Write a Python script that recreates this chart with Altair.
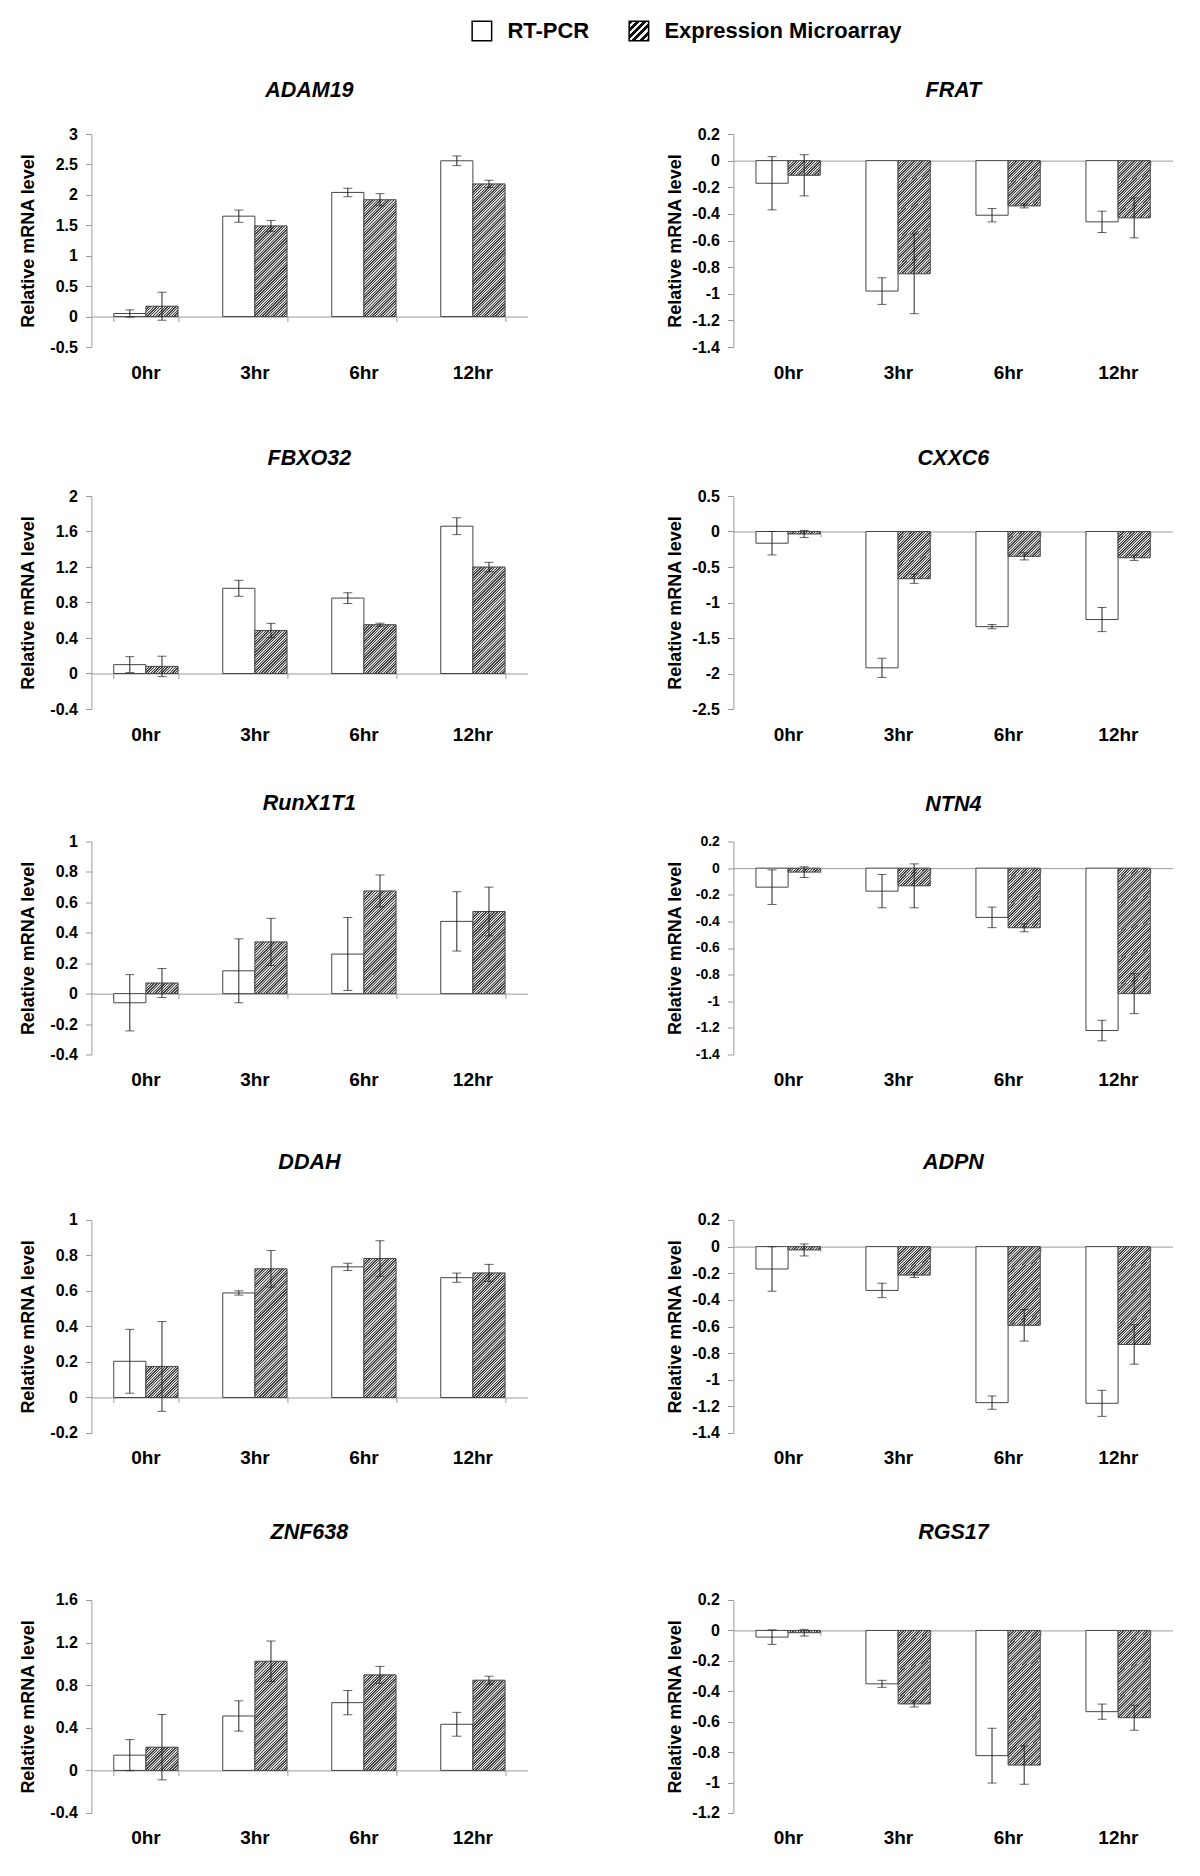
import math
import altair as alt
import pandas as pd

TIMES = ["0hr", "3hr", "6hr", "12hr"]
SERIES = ["RT-PCR", "Expression Microarray"]
GENES = ["ADAM19", "FRAT", "FBXO32", "CXXC6", "RunX1T1", "NTN4", "DDAH", "ADPN", "ZNF638", "RGS17"]

ADAM19_PCR = [0.05, 1.65, 2.04, 2.56]
ADAM19_PCR_ERR = [0.06, 0.10, 0.07, 0.08]
ADAM19_ARR = [0.17, 1.49, 1.92, 2.18]
ADAM19_ARR_ERR = [0.23, 0.09, 0.10, 0.06]
ADAM19_TICKS = [-0.5, 0, 0.5, 1, 1.5, 2, 2.5, 3]

FRAT_PCR = [-0.17, -0.98, -0.41, -0.46]
FRAT_PCR_ERR = [0.20, 0.10, 0.05, 0.08]
FRAT_ARR = [-0.11, -0.85, -0.34, -0.43]
FRAT_ARR_ERR = [0.155, 0.30, 0.015, 0.15]
FRAT_TICKS = [-1.4, -1.2, -1, -0.8, -0.6, -0.4, -0.2, 0, 0.2]

FBXO32_PCR = [0.10, 0.96, 0.85, 1.66]
FBXO32_PCR_ERR = [0.09, 0.09, 0.06, 0.095]
FBXO32_ARR = [0.08, 0.485, 0.55, 1.20]
FBXO32_ARR_ERR = [0.115, 0.08, 0.017, 0.053]
FBXO32_TICKS = [-0.4, 0, 0.4, 0.8, 1.2, 1.6, 2]

CXXC6_PCR = [-0.165, -1.92, -1.34, -1.24]
CXXC6_PCR_ERR = [0.165, 0.135, 0.03, 0.17]
CXXC6_ARR = [-0.035, -0.665, -0.35, -0.37]
CXXC6_ARR_ERR = [0.05, 0.065, 0.05, 0.037]
CXXC6_TICKS = [-2.5, -2, -1.5, -1, -0.5, 0, 0.5]

RUNX1T1_PCR = [-0.06, 0.15, 0.26, 0.475]
RUNX1T1_PCR_ERR = [0.185, 0.21, 0.24, 0.195]
RUNX1T1_ARR = [0.07, 0.34, 0.675, 0.54]
RUNX1T1_ARR_ERR = [0.095, 0.155, 0.105, 0.16]
RUNX1T1_TICKS = [-0.4, -0.2, 0, 0.2, 0.4, 0.6, 0.8, 1]

NTN4_PCR = [-0.143, -0.173, -0.37, -1.22]
NTN4_PCR_ERR = [0.13, 0.125, 0.077, 0.077]
NTN4_ARR = [-0.03, -0.133, -0.448, -0.943]
NTN4_ARR_ERR = [0.04, 0.165, 0.03, 0.15]
NTN4_TICKS = [-1.4, -1.2, -1, -0.8, -0.6, -0.4, -0.2, 0, 0.2]

DDAH_PCR = [0.204, 0.589, 0.736, 0.675]
DDAH_PCR_ERR = [0.18, 0.012, 0.02, 0.026]
DDAH_ARR = [0.175, 0.725, 0.783, 0.702]
DDAH_ARR_ERR = [0.253, 0.103, 0.10, 0.048]
DDAH_TICKS = [-0.2, 0, 0.2, 0.4, 0.6, 0.8, 1]

ADPN_PCR = [-0.168, -0.329, -1.172, -1.177]
ADPN_PCR_ERR = [0.167, 0.054, 0.05, 0.098]
ADPN_ARR = [-0.025, -0.214, -0.591, -0.735]
ADPN_ARR_ERR = [0.045, 0.018, 0.118, 0.148]
ADPN_TICKS = [-1.4, -1.2, -1, -0.8, -0.6, -0.4, -0.2, 0, 0.2]

ZNF638_PCR = [0.143, 0.511, 0.636, 0.433]
ZNF638_PCR_ERR = [0.146, 0.142, 0.114, 0.112]
ZNF638_ARR = [0.218, 1.025, 0.897, 0.847]
ZNF638_ARR_ERR = [0.307, 0.19, 0.08, 0.037]
ZNF638_TICKS = [-0.4, 0, 0.4, 0.8, 1.2, 1.6]

RGS17_PCR = [-0.044, -0.351, -0.823, -0.534]
RGS17_PCR_ERR = [0.048, 0.023, 0.18, 0.05]
RGS17_ARR = [-0.015, -0.483, -0.885, -0.574]
RGS17_ARR_ERR = [0.022, 0.02, 0.126, 0.082]
RGS17_TICKS = [-1.2, -1, -0.8, -0.6, -0.4, -0.2, 0, 0.2]

PW_L, PW_R, PH = 436, 440, 213
P_IN, P_OUT = 0.41, 0.205
FONT = "Liberation Sans"
GRAY = "#9a9a9a"


def hatch(w, h, period=2.7, dark="#444444", light="#d4d4d4", frac=0.5):
    """Diagonal '/' stripes as a linear gradient over the mark's bounding box."""
    total = w + h
    d = w * w + h * h
    x2 = w * total / d
    y2 = h * total / d
    stops = []
    k = 0
    while True:
        a = k * period / total
        b = min((k + frac) * period / total, 1.0)
        c = min((k + 1) * period / total, 1.0)
        stops += [
            {"offset": round(a, 4), "color": dark},
            {"offset": round(b, 4), "color": dark},
            {"offset": round(b, 4), "color": light},
            {"offset": round(c, 4), "color": light},
        ]
        if c >= 1.0:
            break
        k += 1
    return {"gradient": "linear", "x1": 0, "y1": 0, "x2": round(x2, 4), "y2": round(y2, 4), "stops": stops}


def panel(gene, pcr, pcr_err, arr, arr_err, ticks, pw, extent, title_pad, title_offset, label_size=16):
    lo, hi = ticks[0], ticks[-1]
    recs = []
    for i, t in enumerate(TIMES):
        for s, v, e in ((SERIES[0], pcr[i], pcr_err[i]), (SERIES[1], arr[i], arr_err[i])):
            recs.append({"time": t, "series": s, "value": v, "lo": v - e, "hi": v + e})
    df = pd.DataFrame(recs)

    step = pw / (len(TIMES) - P_IN + 2 * P_OUT)
    bar_w = step * (1 - P_IN) / len(SERIES)
    px = PH / (hi - lo)
    zero_dist = round((0 - lo) * px, 2)  # distance from plot bottom to the zero line

    conds = [{"test": f"datum.series === '{SERIES[0]}'", "value": "white"}]
    for t, v in zip(TIMES, arr):
        conds.append({"test": f"datum.time === '{t}'", "value": hatch(bar_w, abs(v) * px)})
    fill = {"condition": conds, "value": "#999999"}

    xs = alt.Scale(domain=TIMES, paddingInner=P_IN, paddingOuter=P_OUT)
    xo = alt.XOffset("series:N", sort=SERIES,
                     scale=alt.Scale(domain=SERIES, paddingInner=0, paddingOuter=0))
    ys = alt.Scale(domain=[lo, hi], nice=False)

    # category labels along the bottom
    x_lab = alt.X("time:N", sort=TIMES, scale=xs, title=None,
                  axis=alt.Axis(orient="bottom", domain=False, ticks=False, tickSize=0,
                                labelAngle=0, labelFontSize=19, labelFontWeight="bold",
                                labelColor="black", labelPadding=16, labelFont=FONT, grid=False))
    # zero line with category boundary ticks
    x_zero = alt.X("time:N", sort=TIMES, scale=xs, title=None,
                   axis=alt.Axis(orient="bottom", offset=-zero_dist, labels=False,
                                 domainColor=GRAY, tickColor=GRAY, tickBand="extent",
                                 tickSize=5, grid=False))
    x_plain = alt.X("time:N", sort=TIMES, scale=xs, axis=None)

    y_axis = alt.Axis(values=ticks, labelExpr="datum.value + ''", grid=False, orient="left",
                      domainColor=GRAY, tickColor=GRAY, tickSize=6, labelPadding=8,
                      labelFontSize=label_size, labelFontWeight="bold",
                      labelColor="black", labelFont=FONT, labelOverlap=False,
                      titleFontSize=18, titleFontWeight="bold", titleColor="black",
                      titleFont=FONT, titlePadding=title_pad,
                      minExtent=extent, maxExtent=extent)

    base = alt.Chart(df)
    bars = base.mark_bar(stroke="#444444", strokeWidth=1).encode(
        x=x_lab, xOffset=xo,
        y=alt.Y("value:Q", scale=ys, title="Relative mRNA level", axis=y_axis),
        y2=alt.datum(0), fill=fill)
    rules = base.mark_rule(color="#222222", strokeWidth=1).encode(
        x=x_zero, xOffset=xo, y=alt.Y("lo:Q", scale=ys, axis=None), y2="hi:Q")
    cap_hi = base.mark_tick(color="#222222", thickness=1, size=9, orient="horizontal").encode(
        x=x_plain, xOffset=xo, y=alt.Y("hi:Q", scale=ys, axis=None))
    cap_lo = base.mark_tick(color="#222222", thickness=1, size=9, orient="horizontal").encode(
        x=x_plain, xOffset=xo, y=alt.Y("lo:Q", scale=ys, axis=None))

    return alt.layer(bars, rules, cap_hi, cap_lo).resolve_axis(
        x="independent", y="independent").properties(
        width=pw, height=PH,
        title=alt.TitleParams(text=gene, fontSize=21.5, fontWeight="bold", fontStyle="italic",
                              font=FONT, color="black", anchor="middle", frame="group",
                              offset=title_offset))


L_EXT, L_TP = 47, 7
R_EXT, R_TP = 43, 6
T_OFF = [25, 18.5, 19.5, 38.5, 48.5]
H_SPACE = 139
ROW_GAPS = [66, 48.5, 62.5, 54]

row1 = alt.hconcat(
    panel("ADAM19", ADAM19_PCR, ADAM19_PCR_ERR, ADAM19_ARR, ADAM19_ARR_ERR, ADAM19_TICKS, PW_L, L_EXT, L_TP, T_OFF[0]),
    panel("FRAT", FRAT_PCR, FRAT_PCR_ERR, FRAT_ARR, FRAT_ARR_ERR, FRAT_TICKS, PW_R, R_EXT, R_TP, T_OFF[0]),
    spacing=H_SPACE)
row2 = alt.hconcat(
    panel("FBXO32", FBXO32_PCR, FBXO32_PCR_ERR, FBXO32_ARR, FBXO32_ARR_ERR, FBXO32_TICKS, PW_L, L_EXT, L_TP, T_OFF[1]),
    panel("CXXC6", CXXC6_PCR, CXXC6_PCR_ERR, CXXC6_ARR, CXXC6_ARR_ERR, CXXC6_TICKS, PW_R, R_EXT, R_TP, T_OFF[1]),
    spacing=H_SPACE)
row3 = alt.hconcat(
    panel("RunX1T1", RUNX1T1_PCR, RUNX1T1_PCR_ERR, RUNX1T1_ARR, RUNX1T1_ARR_ERR, RUNX1T1_TICKS, PW_L, L_EXT, L_TP, T_OFF[2]),
    panel("NTN4", NTN4_PCR, NTN4_PCR_ERR, NTN4_ARR, NTN4_ARR_ERR, NTN4_TICKS, PW_R, R_EXT, R_TP, T_OFF[2], label_size=14),
    spacing=H_SPACE)
row4 = alt.hconcat(
    panel("DDAH", DDAH_PCR, DDAH_PCR_ERR, DDAH_ARR, DDAH_ARR_ERR, DDAH_TICKS, PW_L, L_EXT, L_TP, T_OFF[3]),
    panel("ADPN", ADPN_PCR, ADPN_PCR_ERR, ADPN_ARR, ADPN_ARR_ERR, ADPN_TICKS, PW_R, R_EXT, R_TP, T_OFF[3]),
    spacing=H_SPACE)
row5 = alt.hconcat(
    panel("ZNF638", ZNF638_PCR, ZNF638_PCR_ERR, ZNF638_ARR, ZNF638_ARR_ERR, ZNF638_TICKS, PW_L, L_EXT, L_TP, T_OFF[4]),
    panel("RGS17", RGS17_PCR, RGS17_PCR_ERR, RGS17_ARR, RGS17_ARR_ERR, RGS17_TICKS, PW_R, R_EXT, R_TP, T_OFF[4]),
    spacing=H_SPACE)

rows = [row1, row2, row3, row4, row5]
body = rows[-1]
for r, g in zip(reversed(rows[:-1]), reversed(ROW_GAPS)):
    body = alt.vconcat(r, body, spacing=g)

# legend (its origin is aligned with the panels' plot area)
leg_df = pd.DataFrame({"series": SERIES})
leg_x = alt.X("series:N", sort=SERIES, axis=None,
              scale=alt.Scale(type="point", domain=SERIES, range=[390.5, 547.5], padding=0))
leg_fill = {"condition": [{"test": f"datum.series === '{SERIES[0]}'", "value": "white"}],
            "value": hatch(19, 19, period=7, dark="#111111", light="#f2f2f2", frac=0.55)}
leg_sq = alt.Chart(leg_df).mark_square(size=380, stroke="black", strokeWidth=1.5, opacity=1).encode(
    x=leg_x, fill=leg_fill)
leg_txt = alt.Chart(leg_df).mark_text(align="left", baseline="middle", dx=25.5, fontSize=22,
                                      fontWeight="bold", font=FONT, color="black").encode(
    x=leg_x, text="series:N")
legend = alt.layer(leg_sq, leg_txt).properties(width=850, height=44)

chart = alt.vconcat(legend, body, spacing=26).properties(
    padding={"left": 11.4, "top": 1, "right": 0, "bottom": 0}
).configure(font=FONT).configure_view(stroke=None)

chart.save("out.html", embed_options={"renderer": "svg", "actions": False})
